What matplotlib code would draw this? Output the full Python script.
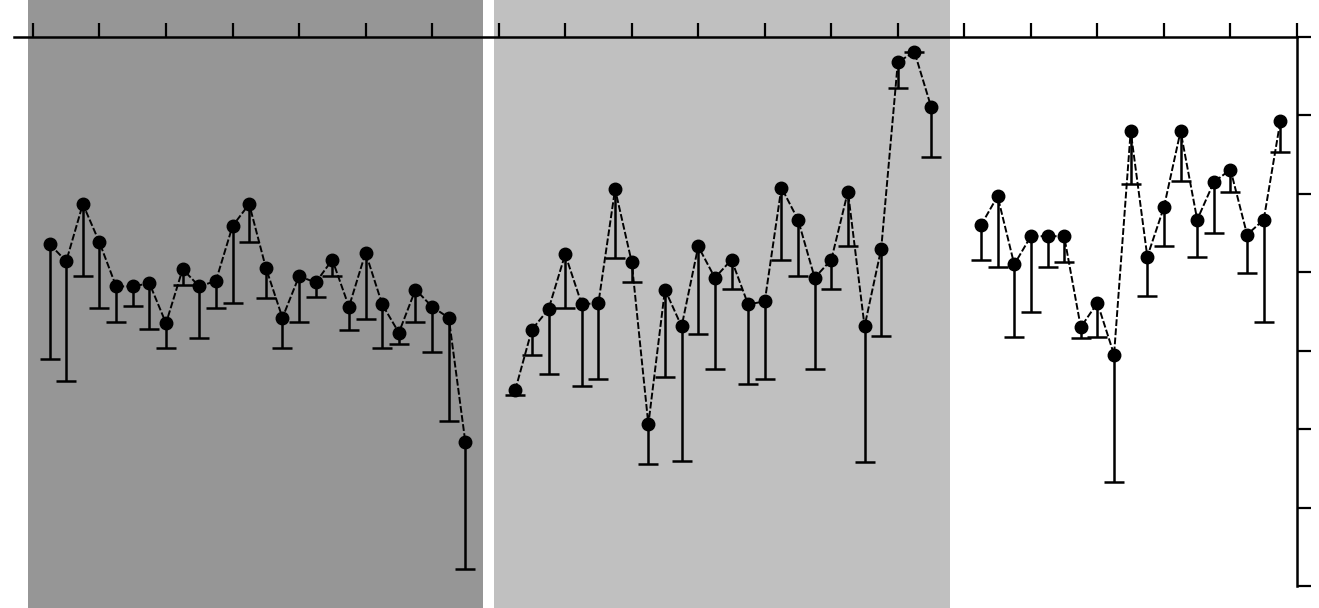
import numpy as np
import matplotlib
matplotlib.use("Agg")
import matplotlib.pyplot as plt

# three periods of measurements, value and lower end of the error bar
t1 = np.arange(1, 27)
vals1 = [4.36, 4.14, 4.87, 4.38, 3.82, 3.82, 3.86, 3.35, 4.04, 3.82, 3.89, 4.59, 4.87,
         4.06, 3.42, 3.95, 3.87, 4.16, 3.56, 4.25, 3.59, 3.23, 3.78, 3.56, 3.42, 1.83]
low1 = [2.90, 2.61, 3.95, 3.54, 3.36, 3.57, 3.28, 3.03, 3.84, 3.16, 3.54, 3.61, 4.38,
        3.67, 3.03, 3.36, 3.69, 3.95, 3.27, 3.40, 3.03, 3.08, 3.36, 2.98, 2.10, 0.22]

t2 = np.arange(29, 55)
vals2 = [2.50, 3.27, 3.53, 4.23, 3.59, 3.61, 5.06, 4.13, 2.06, 3.78, 3.31, 4.33, 3.93,
         4.16, 3.59, 3.63, 5.08, 4.67, 3.93, 4.16, 5.03, 3.31, 4.30, 6.68, 6.81, 6.11]
low2 = [2.44, 2.94, 2.70, 3.55, 2.55, 2.64, 4.18, 3.87, 1.56, 2.66, 1.60, 3.21, 2.77,
        3.79, 2.57, 2.64, 4.16, 3.95, 2.77, 3.79, 4.33, 1.58, 3.19, 6.35, 6.81, 5.47]

t3 = np.arange(57, 76)
vals3 = [4.60, 4.97, 4.10, 4.46, 4.46, 4.46, 3.30, 3.61, 2.95, 5.80, 4.20, 4.83, 5.80,
         4.67, 5.15, 5.31, 4.48, 4.67, 5.93]
low3 = [4.16, 4.07, 3.18, 3.49, 4.07, 4.13, 3.16, 3.18, 1.33, 5.12, 3.70, 4.33, 5.16,
        4.20, 4.50, 5.02, 3.99, 3.36, 5.53]

# shaded periods (start, end, colour)
periods = [(-0.28, 27.05, '#969696'), (27.72, 55.14, '#c0c0c0')]

x_ticks = np.arange(0, 77, 4)
y_ticks = np.arange(0, 8)

fig = plt.figure(figsize=(13.19, 6.08), dpi=100)
ax = fig.add_axes([14 / 1319, 22 / 608, 1283 / 1319, 549 / 608])
ax.set_facecolor('none')

for start, end, col in periods:
    span = ax.axvspan(start, end, ymin=-0.06, ymax=1.1, color=col, lw=0, zorder=0)
    span.set_clip_on(False)

for t, v, lo in [(t1, vals1, low1), (t2, vals2, low2), (t3, vals3, low3)]:
    v = np.array(v)
    lo = np.array(lo)
    # downward error bars only: stem plus a cap at the lower end
    ax.vlines(t, lo, v, color='black', lw=1.8, zorder=2)
    ax.plot(t, lo, ls='none', marker='_', ms=15, mew=1.8, color='black', zorder=2)
    ax.plot(t, v, ls=(0, (3.5, 1.2)), lw=1.4, color='black', marker='o', ms=9,
            zorder=3, clip_on=False)

ax.set_xlim(-1.14, 76)
ax.set_ylim(0, 7)

for side in ['left', 'bottom']:
    ax.spines[side].set_visible(False)
for side in ['top', 'right']:
    ax.spines[side].set_linewidth(1.8)

ax.xaxis.tick_top()
ax.yaxis.tick_right()
ax.set_xticks(x_ticks)
ax.set_yticks(y_ticks)
ax.set_xticklabels([])
ax.set_yticklabels([])
ax.tick_params(axis='x', direction='out', length=10, width=1.6)
ax.tick_params(axis='y', direction='out', length=10, width=1.6)

fig.savefig('out.png', dpi=100)
